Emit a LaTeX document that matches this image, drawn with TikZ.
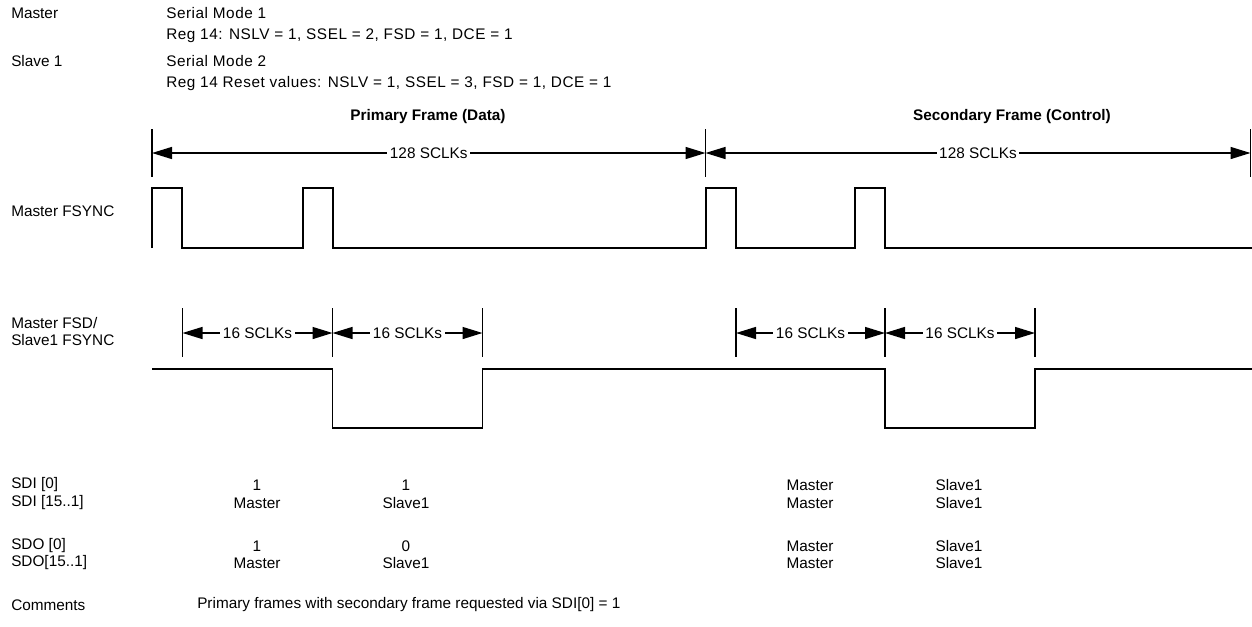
\documentclass[tikz,border=0pt]{standalone}
\usepackage{fontspec}
\setmainfont{Liberation Sans}
\newfontfamily\hdrfont{Liberation Sans}[LetterSpace=3.5]
\usetikzlibrary{arrows.meta}
\begin{document}
\begin{tikzpicture}[x=0.75pt,y=-0.75pt,
  lbl/.style={font=\fontsize{11.5}{13}\selectfont, inner sep=0pt},
  wlbl/.style={lbl, anchor=west},
  hlbl/.style={font=\hdrfont\fontsize{11.5}{13}\selectfont, inner sep=0pt, anchor=west},
  ttl/.style={font=\fontsize{11.5}{13}\selectfont\bfseries, inner sep=0pt},
  sig/.style={line width=1.15pt, line join=miter},
  tickline/.style={line width=1pt},
  dimarrow/.style={line width=1.1pt, {Triangle[length=15pt,width=9pt]}-{Triangle[length=15pt,width=9pt]}},
  dimlbl/.style={lbl, fill=white, inner xsep=2pt, inner ysep=1pt}]
\path[use as bounding box] (0,0) rectangle (1252,626);

% header
\node[wlbl] (hm) at (11,13) {Master};
\node[hlbl] (hm1) at (166,13) {Serial Mode 1};
\node[hlbl] (hm2) at (166,36) {Reg 14: NSLV = 1, SSEL = 2, FSD = 1, DCE = 1};
\node[wlbl] (hs) at (11,61) {Slave 1};
\node[hlbl] (hs1) at (166,61) {Serial Mode 2};
\node[hlbl] (hs2) at (166,84) {Reg 14 Reset values: NSLV = 1, SSEL = 3, FSD = 1, DCE = 1};

% frame titles
\node[ttl] (pf) at (428,117) {Primary Frame (Data)};
\node[ttl] (sf) at (1012,117) {Secondary Frame (Control)};

% frame ticks
\draw[tickline] (152,129) -- (152,177);
\draw[tickline] (705.5,129) -- (705.5,177);
\draw[tickline] (1250.5,129) -- (1250.5,177);
\coordinate (fa) at (152,153);
\coordinate (fb) at (705.5,153);
\coordinate (fc) at (1250.5,153);
\draw[dimarrow] (fa) -- node[dimlbl] (pl) {128 SCLKs} (fb);
\draw[dimarrow] (fb) -- node[dimlbl] (sl) {128 SCLKs} (fc);

% Master FSYNC
\node[wlbl] (mfs) at (11,211) {Master FSYNC};
\draw[sig] (152,248) -- (152,188) -- (182,188) -- (182,248) -- (303,248) -- (303,188) -- (333,188) -- (333,248)
  -- (706,248) -- (706,188) -- (736,188) -- (736,248) -- (855,248) -- (855,188) -- (885,188) -- (885,248) -- (1252,248);

% FSD ticks
\node[wlbl] (fsd1) at (11,323) {Master FSD/};
\node[wlbl] (fsd2) at (11,340) {Slave1 FSYNC};
\foreach \x in {182.5,332.5,482.5,736,885,1035}
  \draw[tickline] (\x,308) -- (\x,357);
\coordinate (da) at (182.5,333);
\coordinate (db) at (332.5,333);
\coordinate (dc) at (482.5,333);
\coordinate (dd) at (736,333);
\coordinate (de) at (885,333);
\coordinate (df) at (1035,333);
\draw[dimarrow] (da) -- node[dimlbl] (l1) {16 SCLKs} (db);
\draw[dimarrow] (db) -- node[dimlbl] (l2) {16 SCLKs} (dc);
\draw[dimarrow] (dd) -- node[dimlbl] (l3) {16 SCLKs} (de);
\draw[dimarrow] (de) -- node[dimlbl] (l4) {16 SCLKs} (df);

% FSD signal
\draw[sig] (152,369) -- (332.5,369) -- (332.5,428) -- (482.5,428) -- (482.5,369) -- (885,369) -- (885,428) -- (1035,428) -- (1035,369) -- (1252,369);

% table
\node[wlbl] (r1) at (11,485) {SDI [0]};
\node[wlbl] (r2) at (11,503) {SDI [15..1]};
\node[wlbl] (r3) at (11,546) {SDO [0]};
\node[wlbl] (r4) at (11,563) {SDO[15..1]};

\node[lbl] (c11) at (257,485) {1};
\node[lbl] (c12) at (406,485) {1};
\node[lbl] (c13) at (810,485) {Master};
\node[lbl] (c14) at (959,485) {Slave1};
\node[lbl] (c21) at (257,503) {Master};
\node[lbl] (c22) at (406,503) {Slave1};
\node[lbl] (c23) at (810,503) {Master};
\node[lbl] (c24) at (959,503) {Slave1};
\node[lbl] (c31) at (257,546) {1};
\node[lbl] (c32) at (406,546) {0};
\node[lbl] (c33) at (810,546) {Master};
\node[lbl] (c34) at (959,546) {Slave1};
\node[lbl] (c41) at (257,563) {Master};
\node[lbl] (c42) at (406,563) {Slave1};
\node[lbl] (c43) at (810,563) {Master};
\node[lbl] (c44) at (959,563) {Slave1};

\node[wlbl] (cm) at (11,605) {Comments};
\node[wlbl] (cmt) at (197,605) {Primary frames with secondary frame requested via SDI[0] = 1};
\end{tikzpicture}
\end{document}
